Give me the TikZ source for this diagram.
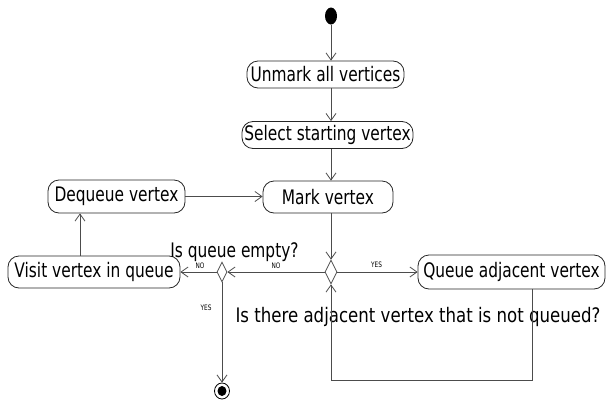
\documentclass[tikz,border=0pt]{standalone}
\usepackage{fontspec}
\setmainfont[FakeStretch=0.77]{DejaVu Sans}
\newfontfamily\widerfont[FakeStretch=0.83]{DejaVu Sans}
\usetikzlibrary{shapes.geometric,arrows.meta}
\begin{document}
\begin{tikzpicture}[x=1pt,y=-1pt,
  every node/.style={font=\fontsize{20}{22}\selectfont},
  actbox/.style={draw=black!85,line width=0.8pt,rounded corners=11pt,inner sep=0pt,align=center},
  conn/.style={draw=black!70,line width=0.8pt},
  arr/.style={conn,-{Straight Barb[length=7pt,width=10pt]}},
  dia/.style={diamond,draw=black!70,line width=0.8pt,inner sep=0pt},
  small/.style={font=\fontsize{7.5}{8}\selectfont,inner sep=0pt}]
\useasboundingbox (0,0) rectangle (606,402);
% nodes
\node[ellipse,fill=black,minimum width=12pt,minimum height=17pt,inner sep=0pt] (start) at (331,16) {};
\node[actbox,minimum width=157pt,minimum height=27pt] (unmark) at (325.5,74.5) {Unmark all vertices};
\node[actbox,minimum width=171pt,minimum height=27pt] (select) at (327.5,135) {Select starting vertex};
\node[actbox,minimum width=130pt,minimum height=32pt] (mark) at (328,197) {Mark vertex};
\node[actbox,minimum width=137pt,minimum height=33pt] (dequeue) at (116.5,196.5) {Dequeue vertex};
\node[actbox,minimum width=172pt,minimum height=32pt] (visit) at (94,272) {Visit vertex in queue};
\node[actbox,minimum width=187pt,minimum height=34pt] (queue) at (511.5,272) {Queue adjacent vertex};
\node[dia,minimum width=12pt,minimum height=24pt] (bd) at (331,272) {};
\node[dia,minimum width=10pt,minimum height=20pt] (sd) at (222,272) {};
\node[ellipse,draw=black,line width=0.8pt,minimum width=15pt,minimum height=16pt,inner sep=0pt] (endo) at (222,391) {};
\node[ellipse,fill=black,minimum width=9pt,minimum height=10pt,inner sep=0pt] (endi) at (endo.center) {};
% texts
\node[anchor=base,inner sep=0pt] (qempty) at (234.5,257) {Is queue empty?};
\node[anchor=base,inner sep=0pt,font=\widerfont\fontsize{20}{22}\selectfont] (qadj) at (418,322) {Is there adjacent vertex that is not queued?};
\node[small] (no1) at (200,266) {NO};
\node[small] (no2) at (276,266) {NO};
\node[small] (yes1) at (376.5,265) {YES};
\node[small] (yes2) at (206,307.5) {YES};
% helper coordinates
\coordinate (vx) at (80,0);
\coordinate (lp) at (532,380);
% connectors
\draw[arr] (start) -- (start |- unmark.north);
\draw[arr] (unmark.south -| start) -- (select.north -| start);
\draw[arr] (select.south -| start) -- (mark.north -| start);
\draw[arr] (mark.south -| start) -- (bd.north);
\draw[arr] (dequeue.east) -- (dequeue.east -| mark.west);
\draw[arr] (visit.north -| vx) -- (dequeue.south -| vx);
\draw[arr] (bd.west) -- (sd.east);
\draw[arr] (sd.west) -- (visit.east);
\draw[arr] (sd.south) -- (endo.north);
\draw[arr] (bd.east) -- (queue.west);
\draw[arr] (queue.south -| lp) -- (lp) -- (lp -| bd) -- (bd.south);
\end{tikzpicture}
\end{document}
